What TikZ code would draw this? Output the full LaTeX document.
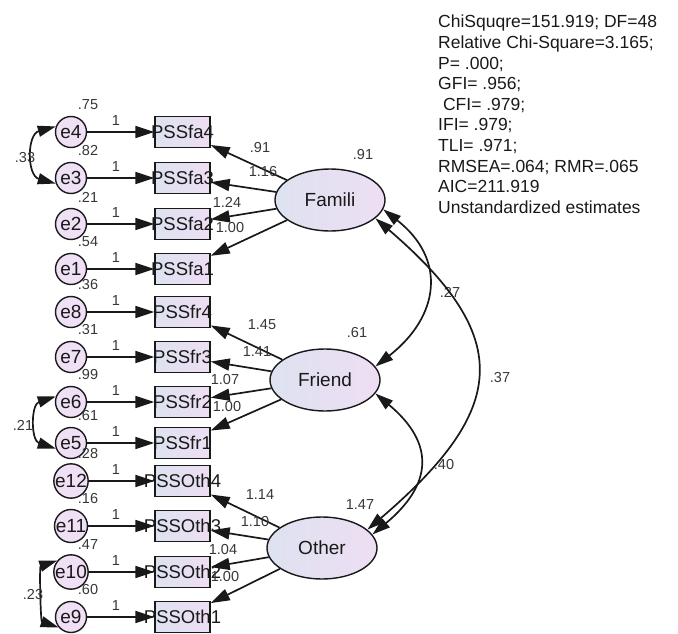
\documentclass[tikz,border=0pt]{standalone}
\usepackage{fontspec}
\setmainfont{Liberation Sans}
\usetikzlibrary{arrows.meta,shapes.geometric}
\definecolor{fillL}{RGB}{222,226,240}
\definecolor{fillR}{RGB}{238,222,243}
\definecolor{errfill}{RGB}{239,224,245}
\definecolor{ink}{RGB}{25,25,25}
\definecolor{est}{RGB}{55,55,55}
\begin{document}
\begin{tikzpicture}[x=1pt,y=-1pt,
  every node/.style={inner sep=0pt},
  obs/.style={draw=ink, line width=1.4pt, minimum width=55pt, minimum height=31pt,
    left color=fillL, right color=fillR},
  obstext/.style={text=ink, font=\fontsize{18.5}{18.5}\selectfont},
  err/.style={circle, draw=ink, line width=1.4pt, minimum size=31pt, fill=errfill,
    text=ink, font=\fontsize{19}{19}\selectfont},
  lat/.style={ellipse, draw=ink, line width=1.4pt, minimum width=110pt, minimum height=62pt,
    left color=fillL, right color=fillR, text=ink, font=\fontsize{19}{19}\selectfont},
  reg/.style={line width=1.7pt, draw=ink, -{Triangle[length=19pt,width=12pt]}},
  covarc/.style={line width=1.7pt, draw=ink,
    {Triangle[length=18pt,width=11pt]}-{Triangle[length=18pt,width=11pt]}},
  num/.style={text=est, font=\fontsize{14.5}{14.5}\selectfont},
]
\useasboundingbox (0,0) rectangle (678,634);

% latent factors
\node[lat] (Famili) at (330,200) {Famili};
\node[lat] (Friend) at (325,380) {Friend};
\node[lat] (Other)  at (322,548) {Other};

% indicators with their error terms
\foreach \e/\b/\y/\v in {
  e4/PSSfa4/132/.75, e3/PSSfa3/178/.82, e2/PSSfa2/224/.21, e1/PSSfa1/269/.54,
  e8/PSSfr4/312/.36, e7/PSSfr3/357/.31, e6/PSSfr2/402/.99, e5/PSSfr1/443/.61,
  e12/PSSOth4/481/.28, e11/PSSOth3/526/.16, e10/PSSOth2/572/.47, e9/PSSOth1/617/.60}{
  \node[obs] (\b) at (182.5,\y) {};
  \node[obstext] (t-\b) at (\b) {\b};
  \node[err] (\e) at (71,\y) {\e};
  \node[num] (var-\e) at (88,\y-27) {\v};
  \draw[reg] (\e) -- (\b);
  \node[num] (one-\e) at (116,\y-11) {1};
}

% factor loadings
\foreach \b in {PSSfa4,PSSfa3,PSSfa2,PSSfa1} \draw[reg] (Famili) -- (\b);
\foreach \b in {PSSfr4,PSSfr3,PSSfr2,PSSfr1} \draw[reg] (Friend) -- (\b);
\foreach \b in {PSSOth4,PSSOth3,PSSOth2,PSSOth1} \draw[reg] (Other) -- (\b);

\node[num] (l-fa4) at (260,148) {.91};
\node[num] (l-fa3) at (263,172) {1.16};
\node[num] (l-fa2) at (227,202) {1.24};
\node[num] (l-fa1) at (230,228) {1.00};
\node[num] (l-fr4) at (262,325) {1.45};
\node[num] (l-fr3) at (257,352) {1.41};
\node[num] (l-fr2) at (225,380) {1.07};
\node[num] (l-fr1) at (227,407) {1.00};
\node[num] (l-ot4) at (260,495) {1.14};
\node[num] (l-ot3) at (255,522) {1.10};
\node[num] (l-ot2) at (223,550) {1.04};
\node[num] (l-ot1) at (225,577) {1.00};

% factor variances
\node[num] (var-Famili) at (363,155) {.91};
\node[num] (var-Friend) at (357,333) {.61};
\node[num] (var-Other)  at (360,505) {1.47};

% error covariances
\draw[covarc] (e4.160) .. controls +(-29,8) and +(-29,-8) .. (e3.200);
\node[num] (c-e4e3) at (25,158) {.33};
\draw[covarc] (e6.160) .. controls +(-25,8) and +(-25,-8) .. (e5.200);
\node[num] (c-e6e5) at (23,425) {.21};
\draw[covarc] (e10.140) .. controls +(-18,6) and +(-18,-6) .. (e9.220);
\node[num] (c-e10e9) at (33,595) {.23};

% factor covariances
\draw[covarc] (Famili.-10) .. controls +(64,50) and +(64,-50) .. (Friend.15);
\node[num] (c-fafr) at (450,292) {.27};
\draw[covarc] (Friend.-15) .. controls +(60,50) and +(60,-50) .. (Other.15);
\node[num] (c-frot) at (444,465) {.40};
\draw[covarc] (Famili.-22) .. controls +(140,120) and +(140,-120) .. (Other.22);
\node[num] (c-faot) at (500,378) {.37};

% fit statistics
\node[anchor=north west, align=left, text=ink, font=\fontsize{17.5}{20.6}\selectfont]
  (fit) at (438,15) {ChiSquqre=151.919; DF=48\\
  Relative Chi-Square=3.165;\\
  P= .000;\\
  GFI= .956;\\
  \ CFI= .979;\\
  IFI= .979;\\
  TLI= .971;\\
  RMSEA=.064; RMR=.065\\
  AIC=211.919\\
  Unstandardized estimates};
\end{tikzpicture}
\end{document}
